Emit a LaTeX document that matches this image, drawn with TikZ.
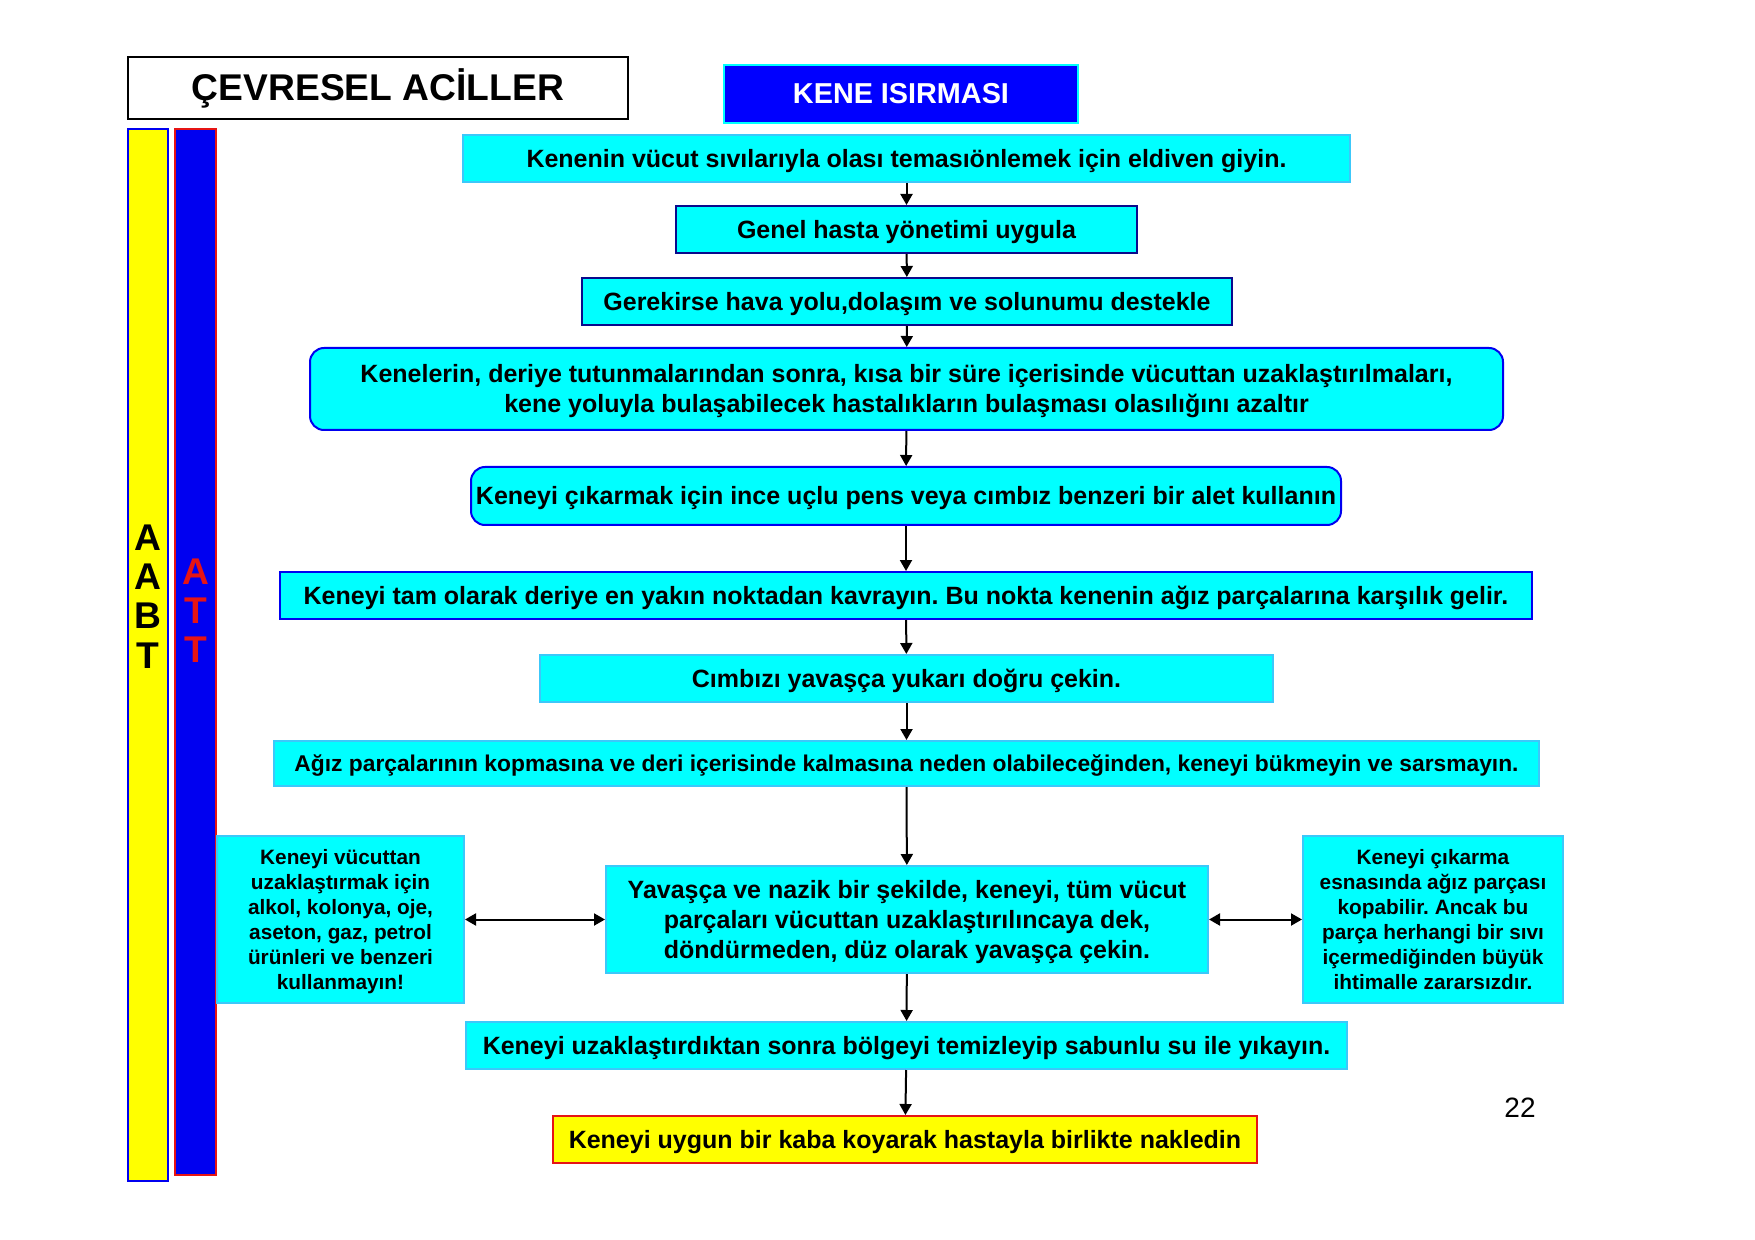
\documentclass[tikz,border=0pt]{standalone}
\usepackage{fontspec}
\setmainfont{Liberation Sans}
\usepackage{tikz}
\usetikzlibrary{arrows.meta}
\frenchspacing

\definecolor{kcyan}{RGB}{0,255,255}
\definecolor{kedge}{RGB}{60,200,250}
\definecolor{knavy}{RGB}{10,10,140}
\definecolor{kblue}{RGB}{0,0,240}
\definecolor{kred}{RGB}{230,20,20}
\definecolor{kyellow}{RGB}{255,255,0}

\begin{document}
\begin{tikzpicture}[x=0.5pt, y=-0.5pt,
    stepbox/.style={draw=kedge, fill=kcyan, line width=1pt, inner sep=0pt, align=center,
        text height=9pt, text depth=0pt, font=\bfseries\fontsize{12.5}{15}\selectfont},
    navybox/.style={stepbox, draw=knavy},
    bluebox/.style={stepbox, draw=kblue, rounded corners=7pt},
    sidebox/.style={stepbox, text height=70pt, font=\bfseries\fontsize{10.4}{12.5}\selectfont},
    flow/.style={-{Triangle[length=5.5pt, width=6pt]}, line width=1pt},
    twoway/.style={{Triangle[length=5.5pt, width=6pt]}-{Triangle[length=5.5pt, width=6pt]}, line width=1pt}]
    \useasboundingbox (0,0) rectangle (1755,1240);

    % heading
    \node[draw=black, line width=1pt, minimum width=250pt, minimum height=31pt,
          font=\bfseries\fontsize{18.6}{20}\selectfont] at (378, 88) (title) {ÇEVRESEL ACİLLER};
    \node[draw=kcyan, fill=blue, line width=1pt, text=white, minimum width=177pt, minimum height=29pt,
          font=\bfseries\fontsize{14.4}{16}\selectfont] at (901, 94) (kene) {KENE ISIRMASI};

    % side bars
    \node[draw=kblue, fill=kyellow, line width=1pt, minimum width=20pt, minimum height=526pt, inner sep=0pt]
          at (148, 655) (abar) {};
    \node[draw=kred, fill=kblue, line width=1.2pt, minimum width=20.5pt, minimum height=523pt, inner sep=0pt]
          at (195.5, 652) (tbar) {};
    \node[align=center, font=\bfseries\fontsize{18.6}{19.6}\selectfont] at (148, 596.5) (aabt) {A\\A\\B\\T};
    \node[align=center, text=kred, font=\bfseries\fontsize{18.6}{19.6}\selectfont] at (195.5, 611) (att) {A\\T\\T};

    % steps
    \node[stepbox, minimum width=443.5pt, minimum height=23.5pt] at (906.5, 158.5) (s1)
        {Kenenin vücut sıvılarıyla olası temasıönlemek için eldiven giyin.};
    \node[navybox, minimum width=230.5pt, minimum height=23.5pt] at (906.5, 229.5) (s2)
        {Genel hasta yönetimi uygula};
    \node[navybox, minimum width=325pt, minimum height=23.5pt] at (907, 301.5) (s3)
        {Gerekirse hava yolu,dolaşım ve solunumu destekle};
    \node[bluebox, text height=24pt, minimum width=596.5pt, minimum height=41pt] at (906.5, 389) (s4)
        {Kenelerin, deriye tutunmalarından sonra, kısa bir süre içerisinde vücuttan uzaklaştırılmaları,\\
         kene yoluyla bulaşabilecek hastalıkların bulaşması olasılığını azaltır};
    \node[bluebox, minimum width=435pt, minimum height=29pt] at (906, 496) (s5)
        {Keneyi çıkarmak için ince uçlu pens veya cımbız benzeri bir alet kullanın};
    \node[stepbox, draw=kblue, minimum width=626pt, minimum height=23.5pt] at (906, 595.5) (s6)
        {Keneyi tam olarak deriye en yakın noktadan kavrayın. Bu nokta kenenin ağız parçalarına karşılık gelir.};
    \node[stepbox, minimum width=366.5pt, minimum height=23.5pt] at (906.5, 678.5) (s7)
        {Cımbızı yavaşça yukarı doğru çekin.};
    \node[stepbox, text height=8.2pt, minimum width=632.5pt, minimum height=22.5pt,
        font=\bfseries\fontsize{11.4}{13}\selectfont] at (906.5, 763.5) (s8)
        {Ağız parçalarının kopmasına ve deri içerisinde kalmasına neden olabileceğinden, keneyi bükmeyin ve sarsmayın.};
    \node[stepbox, text height=38.6pt, minimum width=301pt, minimum height=53.5pt,
        font=\bfseries\fontsize{12.5}{14.8}\selectfont] at (907, 919.5) (s9)
        {Yavaşça ve nazik bir şekilde, keneyi, tüm vücut\\
         parçaları vücuttan uzaklaştırılıncaya dek,\\
         döndürmeden, düz olarak yavaşça çekin.};
    \node[sidebox, minimum width=123.5pt, minimum height=83.5pt] at (340.5, 919.5) (warnl)
        {Keneyi vücuttan\\uzaklaştırmak için\\alkol, kolonya, oje,\\aseton, gaz, petrol\\ürünleri ve benzeri\\kullanmayın!};
    \node[sidebox, minimum width=130pt, minimum height=83.5pt] at (1433, 919.5) (warnr)
        {Keneyi çıkarma\\esnasında ağız parçası\\kopabilir. Ancak bu\\parça herhangi bir sıvı\\içermediğinden büyük\\ihtimalle zararsızdır.};
    \node[stepbox, minimum width=440.5pt, minimum height=23.5pt] at (906.5, 1045.5) (s10)
        {Keneyi uzaklaştırdıktan sonra bölgeyi temizleyip sabunlu su ile yıkayın.};
    \node[stepbox, draw=kred, fill=kyellow, minimum width=352pt, minimum height=23.5pt] at (905, 1139.5) (s11)
        {Keneyi uygun bir kaba koyarak hastayla birlikte nakledin};

    \node[font=\fontsize{14}{16}\selectfont] at (1520, 1108) (page) {22};

    \draw [flow] (s1) -- (s2);
    \draw [flow] (s2) -- (s3);
    \draw [flow] (s3) -- (s4);
    \draw [flow] (s4) -- (s5);
    \draw [flow] (s5) -- (s6);
    \draw [flow] (s6) -- (s7);
    \draw [flow] (s7) -- (s8);
    \draw [flow] (s8) -- (s9);
    \draw [flow] (s9) -- (s10);
    \draw [flow] (s10) -- (s11);
    \draw [twoway] (warnl) -- (s9);
    \draw [twoway] (s9) -- (warnr);
\end{tikzpicture}
\end{document}
